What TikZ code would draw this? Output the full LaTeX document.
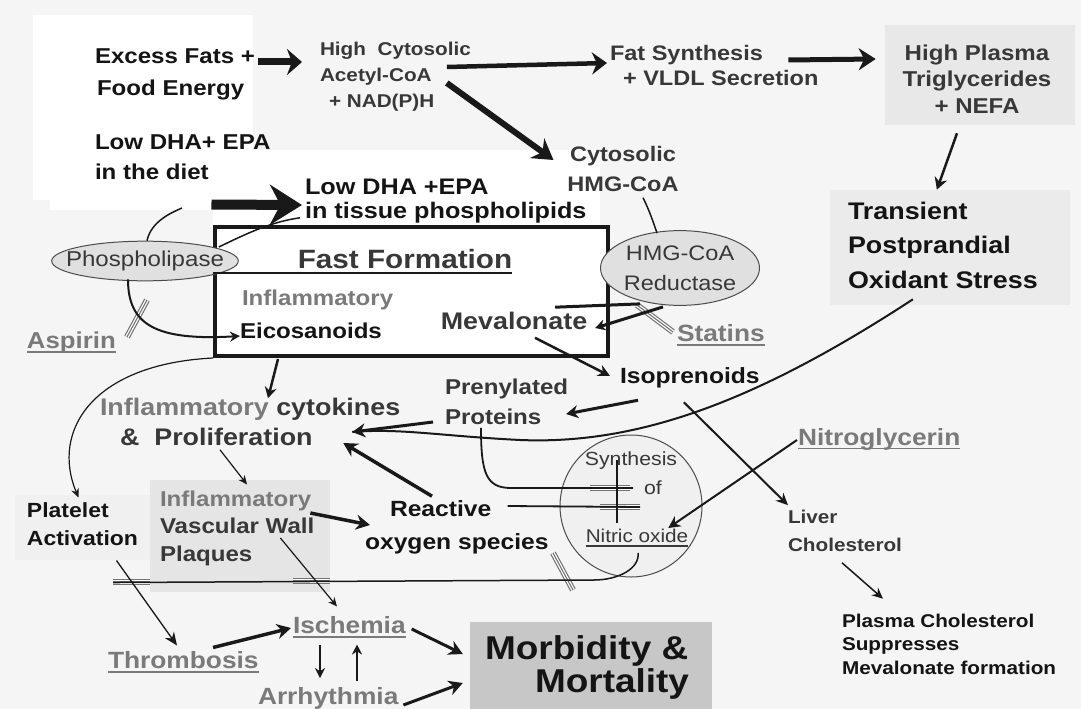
\documentclass[tikz,border=0pt]{standalone}
\usepackage{fontspec}
\setmainfont{Liberation Sans}[FakeStretch=1.12]
\usetikzlibrary{arrows.meta,shapes.geometric}
\newcommand\undl[1]{\setbox0\hbox{#1}\rlap{#1}\rule[-4pt]{\wd0}{1.5pt}}

\begin{document}
\begin{tikzpicture}[x=1pt,y=-1pt,
		txt/.style={inner sep=0pt,outer sep=0pt,text=black!92},
		dark/.style={txt,text=black!78},
		pale/.style={txt,text=black!52},
		fs/.style 2 args={font=\fontsize{#1}{#2}\selectfont\bfseries},
		rfs/.style 2 args={font=\fontsize{#1}{#2}\selectfont},
		arr/.style n args={3}{draw=black!90,line width=#1,-{Stealth[length=#2,width=#3]}},
		ln/.style={draw=black!90,line width=#1},
		blk/.style={draw=black!55,line width=6pt,postaction={draw=white,line width=3.6pt},postaction={draw=black!55,line width=1.1pt}},
		patch/.style={fill=black!#1},
		enz/.style={ellipse,draw=black!70,line width=1pt,fill=black!12,text=black!78,inner sep=0pt}]
		\useasboundingbox (0,0) rectangle (1081,709);
		% background
		\fill[black!4] (0,0) rectangle (1081,709);
		\fill[white] (33,15) rectangle (253,200);
		\fill[white] (50,150) rectangle (600,210);
		\fill[white] (213,200) rectangle (600,228);
		\fill[patch=9] (885,25) rectangle (1075,125);
		\fill[patch=8] (830,190) rectangle (1070,305);
		\fill[patch=10] (150,480) rectangle (330,592);
		\fill[patch=6] (15,495) rectangle (150,560);
		
		% boxes and enzymes
		\node[draw=black!90,line width=4pt,fill=white,minimum width=393pt,minimum height=129pt] (ffbox) at (411.5,291.5) {};
		\node[fill=black!22,minimum width=242pt,minimum height=100pt,inner sep=0pt] (morbbox) at (591,672) {};
		\node[enz,rfs={21}{30},align=center,inner ysep=4pt] (hmgr) at (680,268) {HMG-CoA\\Reductase};
		\node[enz,rfs={21.5}{26},inner xsep=-13pt,inner ysep=4pt] (plip) at (145,261) {Phospholipase};
		\node[circle,draw=black!70,line width=1pt,fill=black!6,minimum size=142pt,inner sep=0pt] (nos) at (631,506) {};
		
		% diet and plasma
		\node[txt,fs={21.5}{34},anchor=west] (excess) at (95,56) {Excess Fats +};
		\node[txt,fs={21.5}{34},anchor=west] (food) at (97,90) {Food Energy};
		\node[dark,fs={18.5}{26},align=left,anchor=west] (hcyt) at (320,77) {High\ \ Cytosolic\\Acetyl-CoA\\\hspace*{9pt}+ NAD(P)H};
		\node[dark,fs={21}{25},align=left,anchor=west] (fatsyn) at (610,65) {Fat Synthesis\\\hspace*{13pt}+ VLDL Secretion};
		\node[dark,fs={21.5}{26.5},align=center] (plasma) at (977,79) {High Plasma\\Triglycerides\\+ NEFA};
		\node[txt,fs={24}{34.5},align=left,anchor=west] (trans) at (848,245) {Transient\\Postprandial\\Oxidant Stress};
		\node[txt,fs={21.5}{30},align=left,anchor=west] (diet) at (95,157) {Low DHA+ EPA\\in the diet};
		\node[txt,fs={22.5}{23.5},align=left,anchor=west] (tissue) at (305,201) {Low DHA +EPA\\in tissue phospholipids};
		\node[dark,fs={21}{30},align=center] (chmg) at (623,169) {Cytosolic\\HMG-CoA};
		
		% fast formation
		\node[dark,fs={26.5}{30}] (fftitle) at (405,259) {Fast Formation};
		\node[pale,fs={21.5}{26},anchor=west] (infl) at (242,300) {Inflammatory};
		\node[txt,fs={21.5}{26},anchor=west] (eico) at (240,331) {Eicosanoids};
		\node[dark,fs={24}{28}] (meva) at (514,321) {Mevalonate};
		\node[txt,fs={22}{26},anchor=west] (iso) at (620,378) {Isoprenoids};
		\node[dark,fs={21.5}{30},align=left,anchor=west] (prot) at (445,402) {Prenylated\\Proteins};
		\node[dark,fs={24}{30},align=left,anchor=west] (cyto) at (100,422) {{\color{black!52}Inflammatory} cytokines\\\hspace*{20pt}\&\ \ Proliferation};
		\node[pale,fs={23}{26},anchor=west] (aspirin) at (27,343) {\undl{Aspirin}};
		\node[pale,fs={23.5}{26},anchor=west] (statins) at (677,335) {\undl{Statins}};
		\node[pale,fs={23.5}{26},anchor=west] (nitro) at (798,439) {\undl{Nitroglycerin}};
		\node[dark,rfs={19}{22}] (synth) at (631,461) {Synthesis};
		\node[dark,rfs={19}{22}] (synof) at (653,488) {of};
		\node[dark,rfs={18.5}{22}] (nitric) at (637,538) {\undl{Nitric oxide}};
		
		% vascular outcome
		\node[txt,fs={22}{33},align=left,anchor=west] (react) at (365,527) {\hspace*{25pt}Reactive\\oxygen species};
		\node[txt,fs={20.5}{28},align=left,anchor=west] (plat) at (27,524) {Platelet\\Activation};
		\node[dark,fs={21.5}{27.5},align=left,anchor=west] (plaq) at (160,528) {{\color{black!52}Inflammatory}\\Vascular Wall\\Plaques};
		\node[pale,fs={23.5}{26},anchor=west] (thromb) at (108,662) {\undl{Thrombosis}};
		\node[pale,fs={23.5}{26},anchor=west] (isch) at (293,627) {\undl{Ischemia}};
		\node[pale,fs={23.5}{26},anchor=west] (arrh) at (258,698) {Arrhythmia};
		\node[txt,fs={33}{33},align=left,anchor=west] (morb) at (485,667) {Morbidity \&\\\hspace*{50pt}Mortality};
		\node[dark,fs={18.5}{28},align=left,anchor=west] (liver) at (788,531) {Liver\\Cholesterol};
		\node[txt,fs={18.5}{23.5},align=left,anchor=west] (pchol) at (842,644) {Plasma Cholesterol\\Suppresses\\Mevalonate formation};
		
		\coordinate (ffu) at ([shift={(0,4)}]fftitle.south east);
		\coordinate (plarc) at (182,208);
		
		% inhibition marks
		\draw[blk] (590,488) -- (630,488);
		\draw[blk] (600,507) -- (640,507);
		\draw[blk] (113,582) -- (150,582);
		\draw[blk] (293,581) -- (330,581);
		\draw[blk] (553,553) -- (573,590);
		\draw[blk] (147,300) -- (127,337);
		\draw[blk] (637,305) -- (673,332);
		
		% plain lines
		\draw[ln=1.6pt] (ffbox.west |- ffu) -- (ffu);
		\draw[ln=1.5pt] ([shift={(20,6)}]chmg.south) .. controls +(6,12) and +(-4,-12) .. ([shift={(-23,3)}]hmgr.north);
		\draw[ln=1.5pt] ([shift={(2,0)}]plip.north) .. controls +(4,-18) and +(-14,6) .. (plarc);
		\draw[ln=1.5pt] ([shift={(-20,-14)}]plip.east) .. controls +(25,-12) and +(-30,4) .. ([shift={(-5,-5)}]tissue.south west);
		\draw[ln=3pt] ([shift={(-32,-5)}]meva.north east) -- ([shift={(-40,-2)}]hmgr.south);
		\draw[ln=1.8pt] ([shift={(36,3)}]prot.south west) .. controls +(0,45) and +(-25,0) .. ([shift={(-120,-18)}]nos.center) -- ([shift={(2,-18)}]nos.center);
		\draw[ln=1.8pt] ([shift={(-41,-21)}]react.east) -- ([shift={(9,1)}]nos.center);
		\draw[ln=1.5pt] ([shift={(-14,-46)}]nos.center) -- ([shift={(-14,17)}]nos.center);
		\draw[ln=1.5pt] ([shift={(86,37)}]plat.south west) -- ([shift={(-37,74)}]nos.center) .. controls +(25,0) and +(2,15) .. ([shift={(7,47)}]nos.center);
		\draw[ln=2pt] ([shift={(-30,11)}]trans.south) .. controls +(-153,100) and +(120,5) .. ([shift={(120,18)}]cyto.east) .. controls +(-80,-4) and +(48,-4) .. ([shift={(-48,10)}]cyto.east);
		
		% arrows
		\draw[arr={7pt}{15pt}{26pt}] ([shift={(3,6)}]excess.east) -- ([shift={(-18,-15)}]hcyt.west);
		\draw[arr={4.5pt}{15pt}{22pt}] ([shift={(-24,-10)}]hcyt.east) -- ([shift={(-3,-2)}]fatsyn.west);
		\draw[arr={5pt}{17pt}{22pt}] ([shift={(-30,-5)}]fatsyn.east) -- ([shift={(-27,-20)}]plasma.west);
		\draw[arr={2.5pt}{12pt}{13pt}] ([shift={(-20,20)}]plasma.south) -- ([shift={(-6,-12)}]trans.north);
		\draw[arr={6pt}{20pt}{24pt}] ([shift={(-24,6)}]hcyt.east) -- ([shift={(-14,-9)}]chmg.west);
		\draw[arr={10pt}{32pt}{40pt}] ([shift={(-59,25)}]diet.south east) -- ([shift={(-3,4)}]tissue.west);
		\draw[arr={3pt}{10pt}{11pt}] ([shift={(-17,1)}]hmgr.south) -- ([shift={(8,7)}]meva.east);
		\draw[arr={2.5pt}{12pt}{12pt}] ([shift={(21,8)}]meva.south) -- ([shift={(-10,-2)}]iso.west);
		\draw[arr={3pt}{12pt}{13pt}] ([shift={(18,12)}]iso.south west) -- ([shift={(-2,12)}]prot.east);
		\draw[arr={3pt}{13pt}{14pt}] ([shift={(-12,20)}]prot.west) -- ([shift={(-48,10)}]cyto.east);
		\draw[arr={2.5pt}{11pt}{12pt}] ([shift={(65,1)}]ffbox.south west) -- ([shift={(168,0)}]cyto.north west);
		\draw[arr={2pt}{10pt}{10pt}] ([shift={(-17,-2)}]plip.south) .. controls +(0,45) and +(-85,5) .. ([shift={(0,5)}]eico.west);
		\draw[arr={1.2pt}{9pt}{8pt}] (ffbox.south west) .. controls +(-120,6) and +(-28,-67) .. ([shift={(-4,-5)}]plat.north);
		\draw[arr={1.2pt}{9pt}{8pt}] ([shift={(120,4)}]cyto.south west) -- ([shift={(87,-6)}]plaq.north west);
		\draw[arr={3.5pt}{14pt}{15pt}] ([shift={(67,-4)}]react.north west) -- ([shift={(-57,21)}]cyto.east);
		\draw[arr={3.5pt}{14pt}{15pt}] ([shift={(-4,-15)}]plaq.east) -- ([shift={(5,-2)}]react.west);
		\draw[arr={1.3pt}{13pt}{11pt}] ([shift={(34,15)}]plat.south) -- ([shift={(69,-6)}]thromb.north west);
		\draw[arr={1.2pt}{9pt}{8pt}] ([shift={(-34,10)}]plaq.east) -- ([shift={(44,-10)}]isch.north west);
		\draw[arr={3.5pt}{14pt}{15pt}] ([shift={(105,-4)}]thromb.north west) -- ([shift={(-2,1)}]isch.west);
		\draw[arr={2.5pt}{10pt}{10pt}] ([shift={(27,7)}]isch.south west) -- ([shift={(62,-9)}]arrh.north west);
		\draw[arr={2.5pt}{10pt}{10pt}] ([shift={(99,-6)}]arrh.north west) -- ([shift={(64,7)}]isch.south west);
		\draw[arr={3pt}{14pt}{15pt}] ([shift={(6,2)}]isch.east) -- ([shift={(-7,-18)}]morbbox.west);
		\draw[arr={3pt}{14pt}{15pt}] ([shift={(5,7)}]arrh.east) -- ([shift={(-7,11)}]morbbox.west);
		\draw[arr={2pt}{12pt}{12pt}] ([shift={(-1,1)}]nitro.west) -- ([shift={(-20,-10)}]nitric.east);
		\draw[arr={2pt}{12pt}{11pt}] ([shift={(-6,14)}]iso.south) -- ([shift={(0,-5)}]liver.north west);
		\draw[arr={1.5pt}{11pt}{10pt}] ([shift={(54,11)}]liver.south west) -- ([shift={(41,-15)}]pchol.north west);
\end{tikzpicture}
\end{document}
